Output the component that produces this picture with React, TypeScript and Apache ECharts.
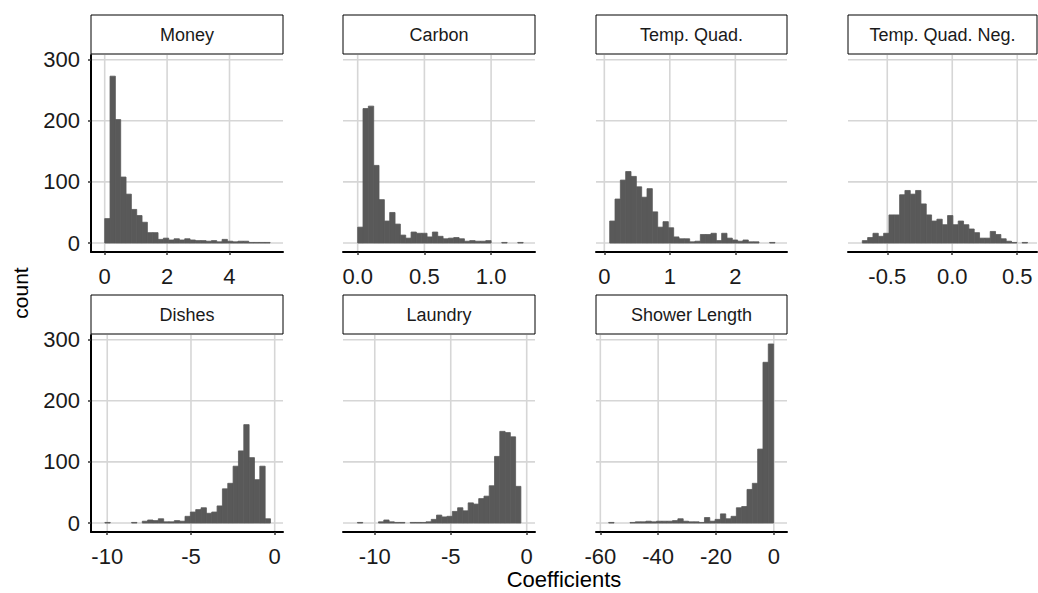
import React, { useEffect, useRef } from "react";
import * as echarts from "echarts";

// ---------- data ----------
const panelTitles = ["Money", "Carbon", "Temp. Quad.", "Temp. Quad. Neg.", "Dishes", "Laundry", "Shower Length"];

const moneyCounts = [40, 273, 202, 108, 80, 55, 45, 34, 17, 17, 6, 8, 5, 7, 5, 7, 5, 4, 4, 3, 4, 2, 6, 3, 2, 3, 3, 1, 1, 1, 1];
const carbonCounts = [26, 220, 224, 127, 71, 36, 50, 31, 13, 8, 18, 16, 16, 10, 18, 11, 7, 8, 9, 7, 3, 4, 3, 3, 4, 0, 0, 1, 0, 0, 1];
const tempQuadCounts = [36, 72, 103, 117, 109, 92, 75, 89, 51, 26, 35, 25, 10, 7, 7, 2, 3, 14, 14, 16, 4, 16, 8, 5, 3, 5, 2, 2, 0, 0, 1];
const tempQuadNegCounts = [4, 9, 16, 11, 16, 46, 46, 79, 86, 80, 86, 64, 46, 36, 39, 30, 45, 30, 36, 30, 23, 17, 8, 8, 19, 14, 7, 3, 1, 0, 1];
const dishesCounts = [1, 0, 0, 0, 0, 1, 0, 3, 5, 4, 7, 2, 2, 4, 3, 11, 18, 22, 25, 16, 18, 28, 56, 65, 93, 118, 161, 107, 71, 93, 7];
const laundryCounts = [1, 0, 0, 0, 2, 5, 2, 1, 1, 0, 1, 1, 1, 2, 6, 13, 10, 11, 19, 25, 20, 33, 31, 40, 44, 61, 109, 150, 148, 141, 60];
const showerCounts = [1, 0, 0, 0, 1, 2, 2, 3, 2, 3, 3, 3, 4, 7, 3, 2, 2, 1, 9, 3, 6, 15, 7, 11, 25, 27, 55, 65, 121, 263, 293];

const panelCounts = [moneyCounts, carbonCounts, tempQuadCounts, tempQuadNegCounts, dishesCounts, laundryCounts, showerCounts];
const binStarts = [0, 0, 0.082, -0.692, -10.14, -11.14, -57.1];
const binWidths = [0.171, 0.04, 0.0814, 0.041, 0.319, 0.347, 1.84];

const xMins = [-0.439, -0.11, -0.127, -0.802, -10.97, -12.09, -61.5];
const xMaxs = [5.715, 1.329, 2.789, 0.652, 0.496, 0.546, 4.57];
const xTicks = [[0, 2, 4], [0, 0.5, 1], [0, 1, 2], [-0.5, 0, 0.5], [-10, -5, 0], [-10, -5, 0], [-60, -40, -20, 0]];
const xDecimals = [0, 1, 0, 1, 0, 0, 0];
const yTicks = [0, 100, 200, 300];
const yMin = -14.65;
const yMax = 307.65;
const xTitle = "Coefficients";
const yTitle = "count";

// ---------- layout ----------
const FONT = "'Liberation Sans', Arial, Helvetica, sans-serif";
const panelBoxes = [
  { left: 91, top: 55, width: 192 },
  { left: 343, top: 55, width: 192 },
  { left: 596, top: 55, width: 191 },
  { left: 848, top: 55, width: 189 },
  { left: 91, top: 335, width: 192 },
  { left: 343, top: 335, width: 192 },
  { left: 596, top: 335, width: 191 },
];
const PANEL_H = 197;
const STRIP_H = 39;
const BAR_COLOR = "#595959";
const GRID_COLOR = "#d6d6d6";
const TEXT_COLOR = "#1a1a1a";

function buildOption() {
  const grid: any[] = [];
  const xAxis: any[] = [];
  const yAxis: any[] = [];
  const series: any[] = [];
  const graphic: any[] = [];

  panelTitles.forEach((title, i) => {
    const box = panelBoxes[i];
    const firstCol = i === 0 || i === 4;
    grid.push({ left: box.left, top: box.top, width: box.width, height: PANEL_H, containLabel: false });
    const dec = xDecimals[i];
    xAxis.push({
      gridIndex: i,
      type: "value",
      min: xMins[i],
      max: xMaxs[i],
      z: 5,
      axisLine: { show: true, onZero: false, lineStyle: { color: "#000", width: 2 } },
      axisTick: { show: true, length: 3, customValues: xTicks[i], lineStyle: { color: "#333", width: 1.5 } },
      axisLabel: {
        customValues: xTicks[i],
        formatter: (v: number) => v.toFixed(dec),
        fontSize: 22,
        fontFamily: FONT,
        color: TEXT_COLOR,
        margin: 13,
      },
      splitLine: { show: false },
    });
    yAxis.push({
      gridIndex: i,
      type: "value",
      min: yMin,
      max: yMax,
      z: 5,
      axisLine: { show: firstCol, onZero: false, lineStyle: { color: "#000", width: 2 } },
      axisTick: { show: firstCol, length: 3, customValues: yTicks, lineStyle: { color: "#333", width: 1.5 } },
      axisLabel: {
        show: firstCol,
        customValues: yTicks,
        fontSize: 22,
        fontFamily: FONT,
        color: TEXT_COLOR,
        margin: 11,
      },
      splitLine: { show: false },
    });

    // grid lines
    const gridData = [
      ...xTicks[i].map((v) => [v, 0, 0]),
      ...yTicks.map((v) => [xMins[i], v, 1]),
    ];
    series.push({
      type: "custom",
      xAxisIndex: i,
      yAxisIndex: i,
      silent: true,
      z: 1,
      encode: { x: 0, y: 1 },
      data: gridData,
      renderItem: (params: any, api: any) => {
        const cs = params.coordSys;
        const kind = api.value(2);
        const p = api.coord([api.value(0), api.value(1)]);
        if (kind === 0) {
          return {
            type: "line",
            shape: { x1: p[0], y1: cs.y, x2: p[0], y2: cs.y + cs.height },
            style: { stroke: GRID_COLOR, lineWidth: 1.6 },
          };
        }
        return {
          type: "line",
          shape: { x1: cs.x, y1: p[1], x2: cs.x + cs.width, y2: p[1] },
          style: { stroke: GRID_COLOR, lineWidth: 1.6 },
        };
      },
    });

    // histogram bars
    const start = binStarts[i];
    const w = binWidths[i];
    const barData = panelCounts[i].map((c, k) => [start + k * w, start + (k + 1) * w, c]);
    series.push({
      type: "custom",
      xAxisIndex: i,
      yAxisIndex: i,
      silent: true,
      z: 2,
      encode: { x: [0, 1], y: 2 },
      data: barData,
      renderItem: (params: any, api: any) => {
        const count = api.value(2);
        if (!count) return null;
        const a = api.coord([api.value(0), 0]);
        const b = api.coord([api.value(1), count]);
        return {
          type: "rect",
          shape: { x: a[0], y: b[1], width: b[0] - a[0], height: a[1] - b[1] },
          style: { fill: BAR_COLOR, stroke: BAR_COLOR, lineWidth: 0.8 },
        };
      },
    });

    // strip
    const stripTop = box.top - STRIP_H - 1;
    graphic.push({
      type: "rect",
      shape: { x: box.left, y: stripTop, width: box.width, height: STRIP_H },
      style: { fill: "#fff", stroke: "#000", lineWidth: 1 },
      z: 10,
    });
    graphic.push({
      type: "text",
      x: box.left + box.width / 2,
      y: stripTop + STRIP_H / 2,
      style: {
        text: title,
        align: "center",
        verticalAlign: "middle",
        fontSize: 18,
        fontFamily: FONT,
        fill: TEXT_COLOR,
      },
      z: 11,
    });
  });

  graphic.push({
    type: "text",
    x: 20,
    y: 293,
    rotation: Math.PI / 2,
    style: {
      text: yTitle,
      align: "center",
      verticalAlign: "middle",
      fontSize: 21,
      fontFamily: FONT,
      fill: "#000",
    },
  });
  graphic.push({
    type: "text",
    x: 564,
    y: 579,
    style: {
      text: xTitle,
      align: "center",
      verticalAlign: "middle",
      fontSize: 22,
      fontFamily: FONT,
      fill: "#000",
    },
  });

  return {
    animation: false,
    backgroundColor: "#fff",
    grid,
    xAxis,
    yAxis,
    series,
    graphic,
  };
}

export default function App() {
  const ref = useRef<HTMLDivElement>(null);
  useEffect(() => {
    if (!ref.current) return;
    const chart = echarts.init(ref.current, undefined, { renderer: "svg" });
    chart.setOption(buildOption() as any);
    return () => {
      chart.dispose();
    };
  }, []);
  return (
    <div
      ref={ref}
      style={{ position: "absolute", left: 0, top: 0, width: 1038, height: 593, background: "#fff" }}
    />
  );
}
